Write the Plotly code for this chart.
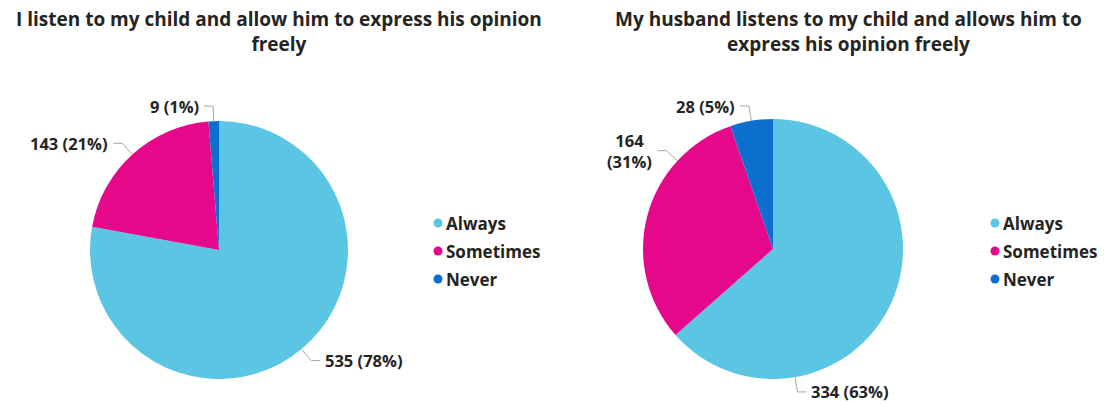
import math
import plotly.graph_objects as go

W, H = 1106, 404

# Survey answers
categories = ["Always", "Sometimes", "Never"]
mother_counts = [535, 143, 9]
father_counts = [334, 164, 28]
titles = [
    "I listen to my child and allow him to express his opinion<br>freely",
    "My husband listens to my child and allows him to<br>express his opinion freely",
]
colors = ["#5BC6E3", "#E6088B", "#0C6FCE"]

TEXT = "#252423"
LEADER = "#A6A6A6"
LABEL_FONT = dict(family="Open Sans", size=16.5, color=TEXT, weight="bold")

# Panel layout in pixels: pie centre / radius, title centre, legend origin,
# angular nudges for labels that are pushed away from their slice middle,
# and which labels wrap onto two lines.
panels = [
    dict(counts=mother_counts, title=titles[0], cx=219, cy=250, r=129,
         title_x=279, legend_x=438, legend_y=223,
         shift=[0, 0, 0], wrap=[False, False, False]),
    dict(counts=father_counts, title=titles[1], cx=773, cy=249, r=130,
         title_x=848, legend_x=995, legend_y=223,
         shift=[56, 28, 0], wrap=[False, True, False]),
]
LEG_ROW = 28
EXT, HLEN, GAP = 15, 9, 3

fig = go.Figure()
annotations = []

for p in panels:
    counts = p["counts"]
    total = sum(counts)
    r = p["r"]
    fig.add_trace(go.Pie(
        labels=categories, values=counts, sort=False, direction="clockwise",
        rotation=0, textinfo="none", hoverinfo="label+value+percent",
        marker=dict(colors=colors, line=dict(width=0)), showlegend=False,
        domain=dict(x=[(p["cx"] - r) / W, (p["cx"] + r) / W],
                    y=[(H - p["cy"] - r) / H, (H - p["cy"] + r) / H]),
    ))

    # data labels with elbow leader lines
    start = 0.0
    for i, v in enumerate(counts):
        frac = v / total
        mid = (start + frac / 2) * 360 + p["shift"][i]
        start += frac
        a = math.radians(mid)
        ax = p["cx"] + r * math.sin(a)
        ay = p["cy"] - r * math.cos(a)
        ex = p["cx"] + (r + EXT) * math.sin(a)
        ey = p["cy"] - (r + EXT) * math.cos(a)
        d = 1 if math.sin(a) > 0 else -1
        hx = ex + d * HLEN
        fig.add_trace(go.Scatter(
            x=[ax, ex, hx], y=[ay, ey, ey], mode="lines",
            line=dict(color=LEADER, width=1), hoverinfo="skip",
            showlegend=False, xaxis="x", yaxis="y"))
        pct = round(frac * 100)
        sep = "<br>" if p["wrap"][i] else " "
        annotations.append(dict(
            x=hx + d * GAP, y=ey, xref="x", yref="y",
            text=f"{v}{sep}({pct}%)", showarrow=False,
            xanchor="left" if d > 0 else "right", yanchor="middle",
            align="center", font=LABEL_FONT))

    # title
    annotations.append(dict(
        x=p["title_x"], y=31, xref="x", yref="y", text=p["title"],
        showarrow=False, xanchor="center", yanchor="middle", align="center",
        font=dict(family="Open Sans", size=19, color=TEXT, weight="bold")))

    # legend
    lx, ly = p["legend_x"], p["legend_y"]
    for k, cat in enumerate(categories):
        yk = ly + k * LEG_ROW
        fig.add_trace(go.Scatter(
            x=[lx], y=[yk], mode="markers",
            marker=dict(size=9, color=colors[k]), hoverinfo="skip",
            showlegend=False, xaxis="x", yaxis="y"))
        annotations.append(dict(
            x=lx + 6, y=yk, xref="x", yref="y", text=cat, showarrow=False,
            xanchor="left", yanchor="middle",
            font=dict(family="Open Sans", size=17, color=TEXT, weight="bold")))

fig.update_layout(
    width=W, height=H, margin=dict(l=0, r=0, t=0, b=0),
    paper_bgcolor="white", plot_bgcolor="rgba(0,0,0,0)",
    xaxis=dict(range=[0, W], visible=False, fixedrange=True, domain=[0, 1]),
    yaxis=dict(range=[H, 0], visible=False, fixedrange=True, domain=[0, 1]),
    annotations=annotations, showlegend=False,
)

fig.write_html("out.html")
